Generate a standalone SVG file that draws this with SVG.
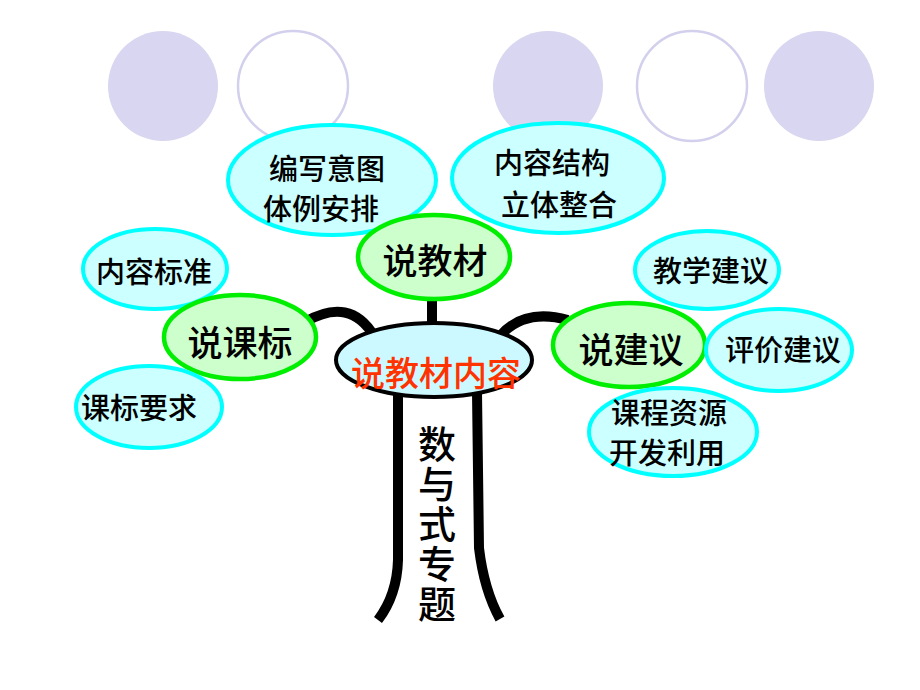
<svg xmlns="http://www.w3.org/2000/svg" width="920" height="690" viewBox="0 0 920 690">
<style>
.deco-fill{fill:#d8d6f0;stroke:none}
.deco-line{fill:none;stroke:#d2d0ec;stroke-width:2.5}
.leaf{fill:#ccffff;stroke:#00ffff;stroke-width:4}
.hub{fill:#ccffcc;stroke:#00ee00;stroke-width:4.5}
.root{fill:#ccf8ff;stroke:#000;stroke-width:4}
.branch{fill:none;stroke:#000;stroke-width:10;stroke-linecap:butt}
text{font-family:"Noto Sans CJK SC","Noto Sans CJK TC",sans-serif;font-weight:500;fill:#000;text-anchor:middle;dominant-baseline:central}
.t-leaf{font-size:29px}
.t-hub{font-size:35px}
.t-root{font-size:34px;fill:#ff3300}
.t-trunk{font-size:38px;writing-mode:vertical-rl;letter-spacing:2px}
</style>
<rect width="920" height="690" fill="#ffffff"/>
<g id="decor">
<circle class="deco-fill" cx="163" cy="86" r="55"/>
<circle class="deco-line" cx="293" cy="86" r="55"/>
<circle class="deco-fill" cx="548" cy="86" r="55"/>
<circle class="deco-line" cx="692" cy="86" r="55"/>
<circle class="deco-fill" cx="819" cy="86" r="55"/>
</g>
<g id="connectors">
<path class="branch" d="M432 298 L432 330"/>
<path class="branch" d="M305 322 Q350 296 374 336"/>
<path class="branch" d="M500 336 Q524 308 568 320"/>
<path class="branch" d="M398 392 L398 560 Q397 595 378 620"/>
<path class="branch" d="M477 392 L479 548 Q484 590 500 619"/>
</g>
<g id="n-bianxie">
<ellipse class="leaf" cx="332" cy="180" rx="104" ry="55"/>
<text class="t-leaf"><tspan x="327" y="167">编写意图</tspan><tspan x="321" y="207">体例安排</tspan></text>
</g>
<g id="n-neirongjiegou">
<ellipse class="leaf" cx="558" cy="178" rx="106" ry="55"/>
<text class="t-leaf"><tspan x="552" y="161">内容结构</tspan><tspan x="559" y="203">立体整合</tspan></text>
</g>
<g id="n-shuojiaocai">
<ellipse class="hub" cx="434" cy="257" rx="76" ry="42"/>
<text class="t-hub" x="435" y="258">说教材</text>
</g>
<g id="n-neirongbiaozhun">
<ellipse class="leaf" cx="155" cy="269" rx="72" ry="40"/>
<text class="t-leaf" x="154" y="270">内容标准</text>
</g>
<g id="n-shuokebiao">
<ellipse class="hub" cx="240" cy="337" rx="76" ry="42"/>
<text class="t-hub" x="240" y="340">说课标</text>
</g>
<g id="n-kebiaoyaoqiu">
<ellipse class="leaf" cx="149" cy="407" rx="73" ry="41"/>
<text class="t-leaf" x="139" y="406">课标要求</text>
</g>
<g id="n-jiaoxue">
<ellipse class="leaf" cx="707" cy="270" rx="72" ry="39"/>
<text class="t-leaf" x="711" y="269">教学建议</text>
</g>
<g id="n-shuojianyi">
<ellipse class="hub" cx="629" cy="345" rx="76" ry="42"/>
<text class="t-hub" x="631" y="347">说建议</text>
</g>
<g id="n-pingjia">
<ellipse class="leaf" cx="779" cy="350" rx="73" ry="41"/>
<text class="t-leaf" x="783" y="348">评价建议</text>
</g>
<g id="n-kecheng">
<ellipse class="leaf" cx="673" cy="432" rx="84" ry="44"/>
<text class="t-leaf"><tspan x="669" y="411">课程资源</tspan><tspan x="667" y="451">开发利用</tspan></text>
</g>
<g id="n-root">
<ellipse class="root" cx="434" cy="360" rx="98" ry="37"/>
<text class="t-root" x="436" y="371">说教材内容</text>
</g>
<g id="n-trunk">
<text class="t-trunk" x="437" y="525">数与式专题</text>
</g>
</svg>
